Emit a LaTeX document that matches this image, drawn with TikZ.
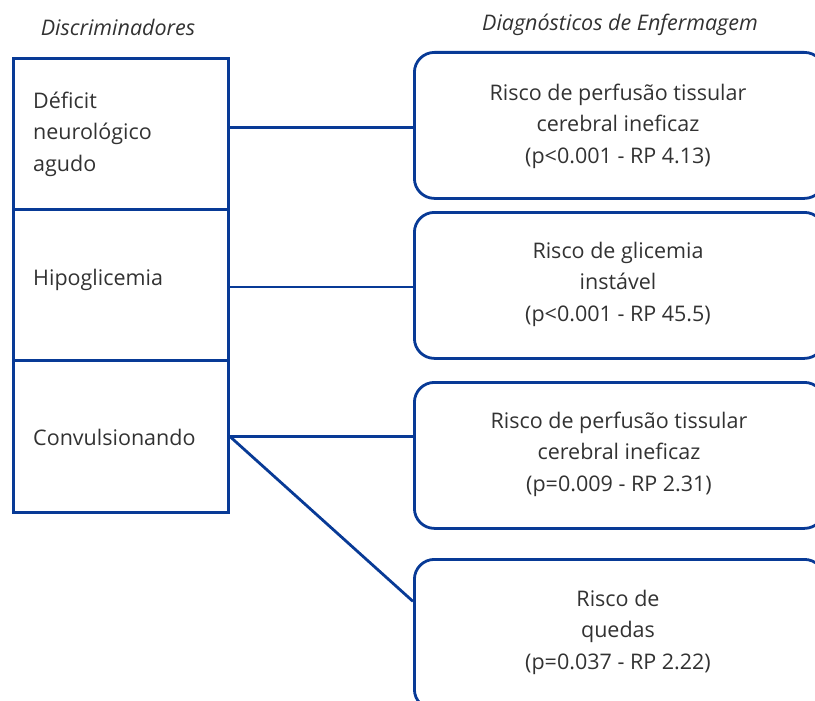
\documentclass[tikz,border=0pt]{standalone}
\usepackage{fontspec}
\setmainfont{Open Sans}
\usetikzlibrary{calc}
\definecolor{lineblue}{RGB}{8,58,150}
\definecolor{txtgray}{RGB}{50,50,50}
\begin{document}
\begin{tikzpicture}[x=1pt,y=-1pt,
  every node/.style={text=txtgray,font=\fontsize{21.5}{31.5}\selectfont},
  discbox/.style={draw=lineblue,line width=2.8pt,anchor=north west,minimum width=215pt,minimum height=151pt,inner sep=0pt},
  disctext/.style={anchor=west,align=left,inner sep=0pt},
  diagbox/.style={draw=lineblue,line width=2.8pt,rounded corners=20pt,anchor=north west,minimum width=410pt,minimum height=146pt,inner sep=0pt},
  diagtext/.style={align=center},
  conn/.style={draw=lineblue,line width=2.8pt},
  heading/.style={font=\fontsize{21.5}{26}\selectfont\itshape}]
\useasboundingbox (0,0) rectangle (815,701);
\clip (0,0) rectangle (815,701);
% headings
\node[heading] (h1) at (118,27) {Discriminadores};
\node[heading] (h2) at (620,25) {Diagnósticos de Enfermagem};
% left column
\node[discbox] (c1) at (12,57) {};
\node[discbox] (c2) at (12,208) {};
\node[discbox,minimum height=152pt] (c3) at (12,359) {};
\node[disctext] (t1) at (33,134) {Déficit\\neurológico\\agudo};
\node[disctext] (t2) at (33,280) {Hipoglicemia};
\node[disctext] (t3) at (33,437) {Convulsionando};
% right boxes
\node[diagbox] (d1) at (413,51) {};
\node[diagbox] (d2) at (413,211) {};
\node[diagbox] (d3) at (413,381) {};
\node[diagbox,minimum height=150pt] (d4) at (413,558) {};
\node[diagtext] (u1) at (618,126) {Risco de perfusão tissular\\cerebral ineficaz\\(p<0.001 - RP 4.13)};
\node[diagtext] (u2) at (618,284) {Risco de glicemia\\instável\\(p<0.001 - RP 45.5)};
\node[diagtext] (u3) at (619,454) {Risco de perfusão tissular\\cerebral ineficaz\\(p=0.009 - RP 2.31)};
\node[diagtext] (u4) at (618,632) {Risco de\\quedas\\(p=0.037 - RP 2.22)};
% connectors
\draw[conn] ([yshift=-2pt]d1.west -| c1.east) -- ([yshift=-2pt]d1.west);
\draw[conn] ([yshift=-2pt]c2.east) -- ([yshift=-2pt]c2.east -| d2.west);
\draw[conn] (c3.east) -- (c3.east -| d3.west);
\draw[conn] (c3.east) -- ([yshift=33pt]d4.west);
\end{tikzpicture}
\end{document}
